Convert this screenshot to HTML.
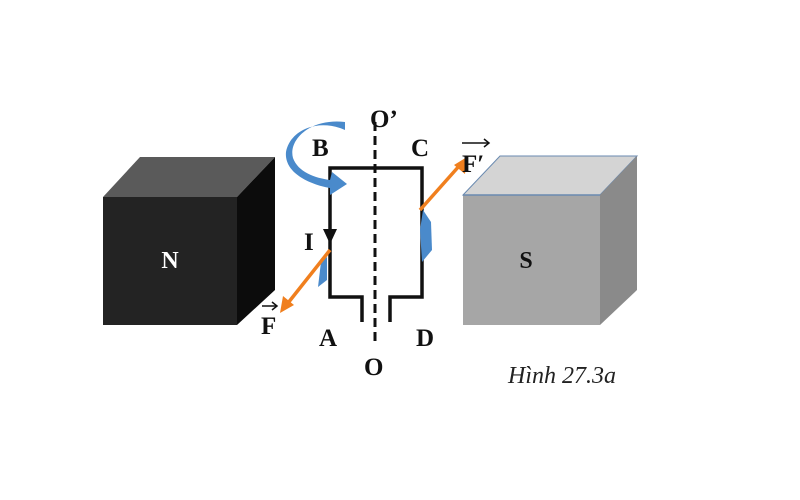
<!DOCTYPE html>
<html><head><meta charset="utf-8"><style>
html,body{margin:0;padding:0;background:#fff;}
svg{display:block;}
</style></head><body>
<svg width="800" height="500" viewBox="0 0 800 500" xmlns="http://www.w3.org/2000/svg">
<rect width="800" height="500" fill="#fff"/>
<!-- N cube -->
<polygon points="103,197 140,157 275,157 237,197" fill="#5a5a5a"/>
<polygon points="237,197 275,157 275,290 237,325" fill="#0c0c0c"/>
<rect x="103" y="197" width="134" height="128" fill="#232323"/>
<text x="170" y="268" font-family="Liberation Serif,serif" font-weight="bold" font-size="24" fill="#fff" text-anchor="middle">N</text>
<!-- S cube -->
<polygon points="463,195 500,156 637,156 600,195" fill="#d4d4d4" stroke="#6a8ab0" stroke-width="1"/>
<polygon points="600,195 637,156 637,290 600,325" fill="#8a8a8a"/>
<rect x="463" y="195" width="137" height="130" fill="#a6a6a6"/>
<line x1="463" y1="195" x2="600" y2="195" stroke="#6a8ab0" stroke-width="1.5"/>
<text x="526" y="268" font-family="Liberation Serif,serif" font-weight="bold" font-size="24" fill="#111" text-anchor="middle">S</text>
<!-- axis -->
<line x1="375" y1="122" x2="375" y2="345" stroke="#111" stroke-width="3" stroke-dasharray="9,5"/>
<!-- loop -->
<polyline points="362,322 362,297 330,297 330,168 422,168 422,297 390,297 390,322" fill="none" stroke="#111" stroke-width="3.5"/>
<polygon points="323,229 337,229 330,244" fill="#111"/>
<!-- blue shapes -->
<path d="M345,122 C310,118 288,140 293,158 C298,172 315,178 330,180 L332,172 L347,184 L330,195 L330,188 C308,184 284,172 286,152 C290,130 318,118 345,130 Z" fill="#4a8acb"/>
<polygon points="321,262 327,257 327,280 318,287" fill="#4a8acb"/>
<polygon points="423,210 431,222 432,250 422,262 420,230" fill="#4a8acb"/>
<!-- orange arrows -->
<g stroke="#f07f1e" stroke-width="3.5" fill="#f07f1e">
<line x1="330" y1="250" x2="288" y2="303"/>
<line x1="420" y1="210" x2="460" y2="165"/>
</g>
<polygon points="280,313 283,296 294,305" fill="#f07f1e"/>
<polygon points="467,157 465,174 454,165" fill="#f07f1e"/>
<!-- labels -->
<g font-family="Liberation Serif,serif" font-size="25" fill="#111" font-weight="bold">
<text x="370" y="127">O’</text>
<text x="312" y="156">B</text>
<text x="411" y="156">C</text>
<text x="304" y="250">I</text>
<text x="319" y="346">A</text>
<text x="416" y="346">D</text>
<text x="364" y="375">O</text>
<text x="261" y="334">F</text>
<text x="462" y="172">F′</text>
</g>
<g stroke="#111" stroke-width="1.5" fill="none">
<line x1="262" y1="306" x2="276" y2="306"/><polyline points="272,302 277,306 272,310"/>
<line x1="462" y1="143" x2="488" y2="143"/><polyline points="484,139 489,143 484,147"/>
</g>
<text x="508" y="383" font-family="Liberation Serif,serif" font-style="italic" font-size="24" fill="#222">Hình 27.3a</text>
</svg>
</body></html>
